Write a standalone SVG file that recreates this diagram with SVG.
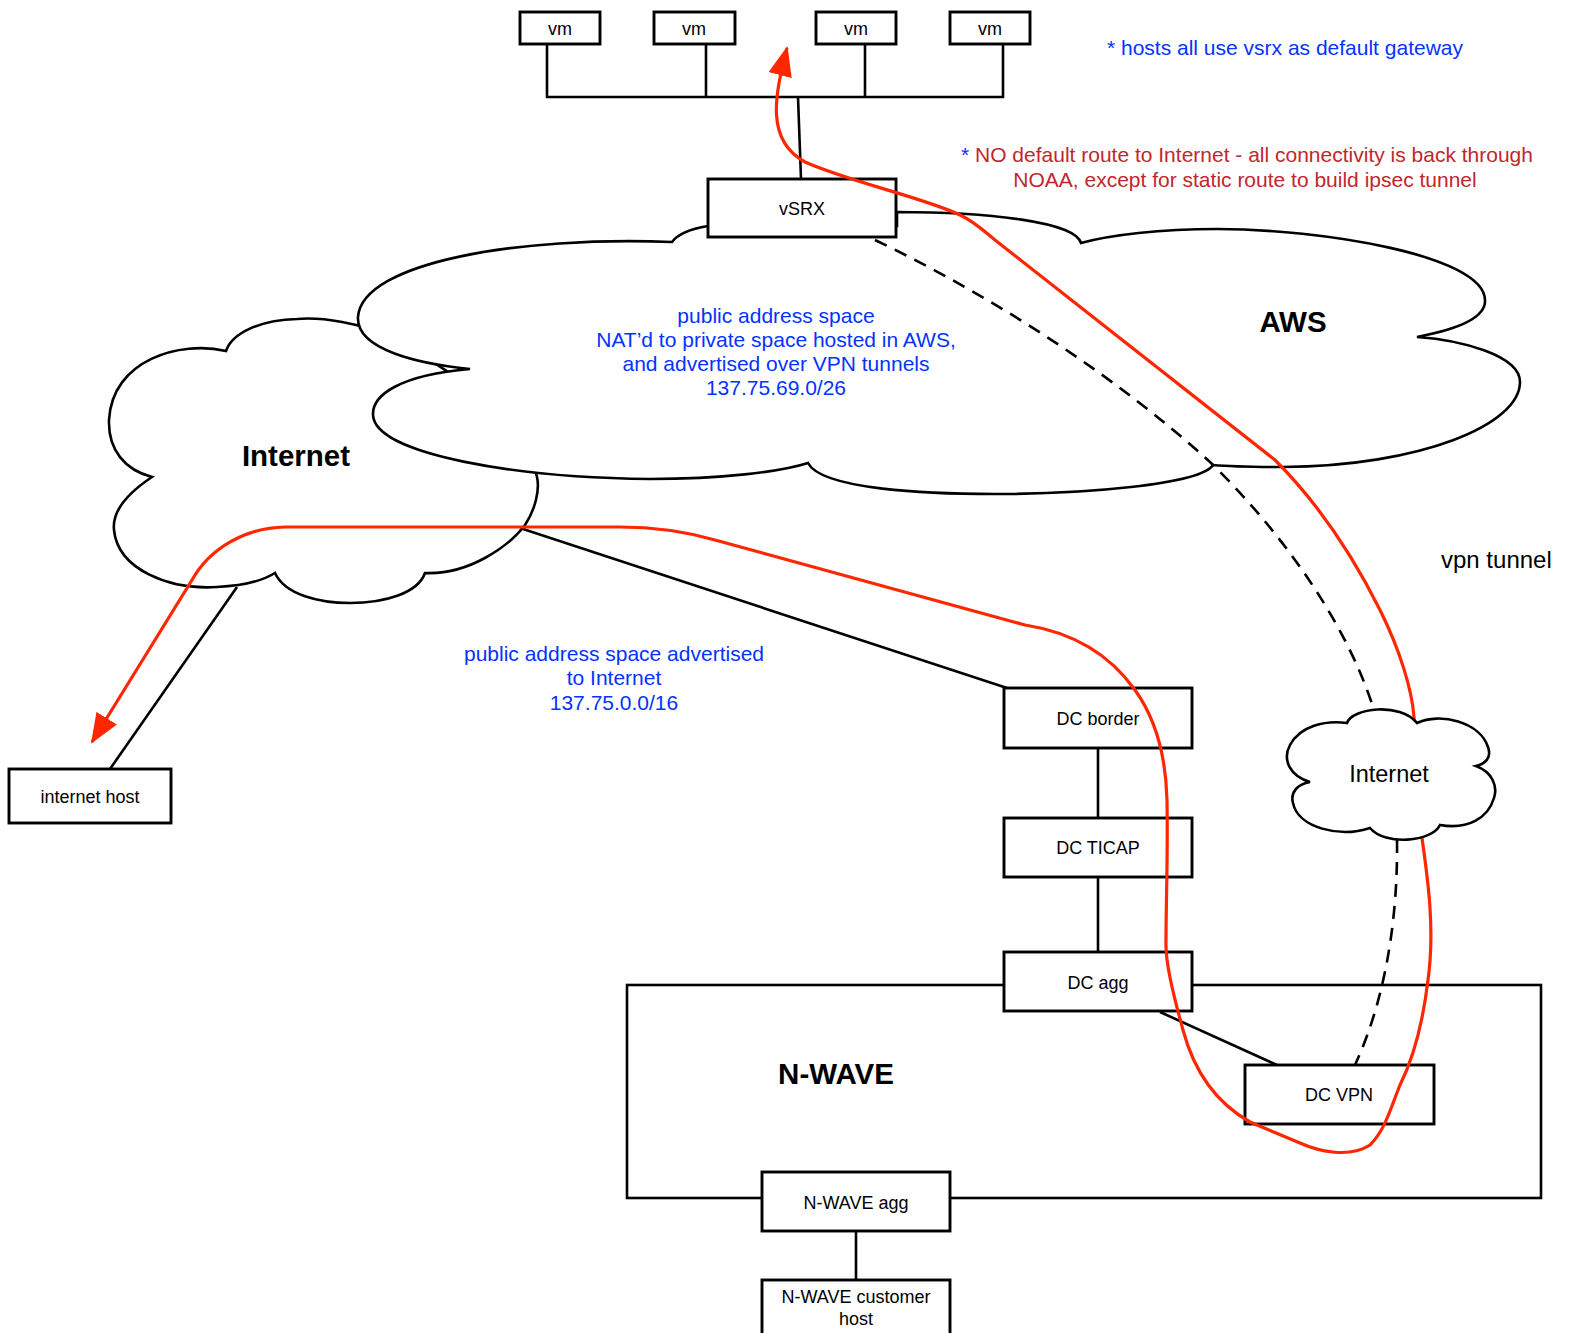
<svg xmlns="http://www.w3.org/2000/svg" width="1570" height="1333" viewBox="0 0 1570 1333">
<style>
text{font-family:"Liberation Sans",Arial,Helvetica,sans-serif;}
.box{fill:#fff;stroke:#000;stroke-width:2.9;}
.lbl{font-size:18px;fill:#000;text-anchor:middle;}
.big{font-size:29.5px;font-weight:bold;fill:#000;text-anchor:middle;}
.cloud{fill:#fff;stroke:#000;stroke-width:2.6;stroke-linejoin:miter;}
.wire{fill:none;stroke:#000;stroke-width:2.6;}
.dash{fill:none;stroke:#000;stroke-width:2.6;stroke-dasharray:13 9;}
.red{fill:none;stroke:#ff2600;stroke-width:3.2;}
.blue{font-size:21px;fill:#0433ff;text-anchor:middle;}
.rtxt{font-size:21px;fill:#c1272d;text-anchor:middle;}
</style>
<defs>
<marker id="arr" markerUnits="userSpaceOnUse" markerWidth="30" markerHeight="24" viewBox="0 0 30 24" refX="28" refY="12" orient="auto-start-reverse">
<path d="M0,0 L30,12 L0,24 Z" fill="#ff2600"/>
</marker>
</defs>
<rect width="1570" height="1333" fill="#fff"/>

<g id="internet-cloud">
<path class="cloud" d="M226,351 C180,340 112,360 109,420 C108,450 125,470 152,477 C125,495 112,512 114,530 C118,570 170,590 217,587 C240,586 262,581 275,573 C285,595 320,603 350,603 C385,603 418,593 425,573 C470,575 510,545 525,525 C535,510 540,490 537,477 L520,420 L400,340 C360,322 320,317 297,319 C260,320 232,333 226,351 Z"/>
<text class="big" x="296" y="466">Internet</text>
</g>

<g id="aws-cloud">
<path class="cloud" d="M708,226 C690,229 677,235 672,242 C520,236 362,262 358,317 C356,350 420,364 470,369 C400,375 372,395 373,415 C375,455 520,478 650,479 C720,479 780,472 808,463 C822,490 930,494 995,494 C1080,494 1200,485 1213,465 C1235,467 1260,467 1283,467 C1420,466 1520,425 1520,382 C1520,355 1460,340 1417,337 C1465,328 1486,315 1485,300 C1484,255 1320,229 1217,229 C1160,229 1110,235 1081,243 C1075,222 990,212 897,212 L897,226 Z"/>
<text class="big" x="1293" y="332">AWS</text>
</g>

<g id="nwave">
<rect x="627" y="985" width="914" height="213" fill="none" stroke="#000" stroke-width="2.6"/>
<text class="big" x="836" y="1084">N-WAVE</text>
</g>

<g id="connectors">
<path class="wire" d="M547,44 V97 H1003 V44 M706,44 V97 M865,44 V97"/>
<path class="wire" d="M798,97 L801,179"/>
<path class="wire" d="M523,529 L1007,688"/>
<path class="wire" d="M237,587 L110,769"/>
<path class="wire" d="M1098,748 V818 M1098,877 V952"/>
<path class="wire" d="M1160,1012 L1277,1065"/>
<path class="wire" d="M856,1231 V1280"/>
<path class="dash" d="M875,240 C1000,300 1120,380 1210,462 C1280,530 1345,620 1373,707"/>
<path class="dash" d="M1397,840 C1398,920 1385,1000 1355,1065"/>
</g>

<g id="vm1"><rect class="box" x="520" y="12" width="80" height="32"/><text class="lbl" x="560" y="35">vm</text></g>
<g id="vm2"><rect class="box" x="654" y="12" width="81" height="32"/><text class="lbl" x="694" y="35">vm</text></g>
<g id="vm3"><rect class="box" x="816" y="12" width="80" height="32"/><text class="lbl" x="856" y="35">vm</text></g>
<g id="vm4"><rect class="box" x="950" y="12" width="80" height="32"/><text class="lbl" x="990" y="35">vm</text></g>
<g id="vsrx"><rect class="box" x="708" y="179" width="188" height="58"/><text class="lbl" x="802" y="215">vSRX</text></g>
<g id="internet-host"><rect class="box" x="9" y="769" width="162" height="54"/><text class="lbl" x="90" y="803">internet host</text></g>
<g id="dc-border"><rect class="box" x="1004" y="688" width="188" height="60"/><text class="lbl" x="1098" y="725">DC border</text></g>
<g id="dc-ticap"><rect class="box" x="1004" y="818" width="188" height="59"/><text class="lbl" x="1098" y="854">DC TICAP</text></g>
<g id="dc-agg"><rect class="box" x="1004" y="952" width="188" height="59"/><text class="lbl" x="1098" y="989">DC agg</text></g>
<g id="dc-vpn"><rect class="box" x="1245" y="1065" width="189" height="59"/><text class="lbl" x="1339" y="1101">DC VPN</text></g>
<g id="nwave-agg"><rect class="box" x="762" y="1172" width="188" height="59"/><text class="lbl" x="856" y="1209">N-WAVE agg</text></g>
<g id="nwave-customer-host"><rect class="box" x="762" y="1280" width="188" height="62"/><text class="lbl" x="856" y="1303">N-WAVE customer</text><text class="lbl" x="856" y="1325">host</text></g>

<g id="red-path">
<path class="red" marker-start="url(#arr)" marker-end="url(#arr)" d="M787,48 C775,95 765,140 805,162 C850,182 925,198 960,215 C975,222 985,232 995,240 L1275,460 C1320,505 1355,560 1380,610 C1400,650 1412,690 1414,717 L1422,838 C1428,880 1435,930 1428,980 C1422,1030 1410,1065 1400,1085 C1390,1110 1385,1130 1370,1145 C1350,1158 1320,1152 1300,1143 L1250,1122 C1220,1105 1195,1075 1183,1030 C1172,990 1165,960 1166,940 C1166,900 1168,860 1167,800 C1166,760 1158,722 1135,690 C1108,652 1070,632 1025,625 L715,540 C680,530 650,527 620,527 L285,527 C245,528 210,548 192,580 L92,742"/>
</g>

<g id="internet-small-cloud">
<path class="cloud" d="M1347,723 C1352,708 1400,702 1417,723 C1440,712 1480,722 1488,747 C1492,758 1485,764 1476,766 C1492,772 1498,786 1494,798 C1488,818 1468,830 1440,825 C1432,842 1385,846 1370,828 C1340,838 1298,828 1293,803 C1290,792 1298,784 1310,782 C1290,776 1282,760 1290,745 C1300,726 1325,720 1347,723 Z"/>
<text x="1389" y="782" style="font-size:23.5px;text-anchor:middle;fill:#000">Internet</text>
</g>

<g id="annotations">
<text class="blue" x="1285" y="55">* hosts all use vsrx as default gateway</text>
<text class="rtxt" x="1247" y="162"><tspan fill="#0433ff">*</tspan> NO default route to Internet - all connectivity is back through</text>
<text class="rtxt" x="1245" y="187">NOAA, except for static route to build ipsec tunnel</text>
<text class="blue" x="776" y="323">public address space</text>
<text class="blue" x="776" y="347">NAT’d to private space hosted in AWS,</text>
<text class="blue" x="776" y="371">and advertised over VPN tunnels</text>
<text class="blue" x="776" y="395">137.75.69.0/26</text>
<text class="blue" x="614" y="661">public address space advertised</text>
<text class="blue" x="614" y="685">to Internet</text>
<text class="blue" x="614" y="710">137.75.0.0/16</text>
<text x="1441" y="568" style="font-size:24px;fill:#000">vpn tunnel</text>
</g>
</svg>
